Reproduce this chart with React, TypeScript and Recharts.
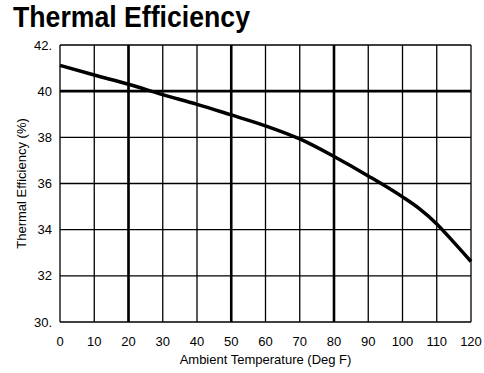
import { LineChart, Line, XAxis, YAxis, CartesianGrid, ReferenceLine, Label } from 'recharts';

const temps = [0, 10, 20, 30, 40, 50, 60, 70, 80, 90, 100, 105, 110, 115, 120];
const efficiency = [41.12, 40.7, 40.3, 39.85, 39.43, 38.97, 38.5, 37.93, 37.17, 36.33, 35.42, 34.9, 34.25, 33.45, 32.62];
const xTicks = [0, 10, 20, 30, 40, 50, 60, 70, 80, 90, 100, 110, 120];
const yTicks = [30, 32, 34, 36, 38, 40, 42];
const majorX = [20, 50, 80];
const majorY = [40];

const data = temps.map((t, i) => ({ temp: t, eff: efficiency[i] }));

const fmtY = (v: number) => (v === 30 || v === 42 ? `${v}.` : `${v}`);

export default function App() {
  return (
    <div style={{ position: 'absolute', left: 0, top: 0, width: 484, height: 373, background: '#fff', fontFamily: '"Liberation Sans", Arial, sans-serif' }}>
      <svg width={484} height={40} style={{ position: 'absolute', left: 0, top: 0 }}>
        <text x={13} y={27} fontSize={30} fontWeight="bold" fill="#000" textLength={237} lengthAdjust="spacingAndGlyphs" fontFamily='"Liberation Sans", Arial, sans-serif'>
          Thermal Efficiency
        </text>
      </svg>
      <LineChart width={484} height={373} data={data} margin={{ top: 45, right: 13, bottom: 1, left: 0 }}>
        <CartesianGrid stroke="#000" strokeWidth={1.3} horizontalValues={yTicks} verticalValues={xTicks} />
        <XAxis
          dataKey="temp"
          type="number"
          domain={[0, 120]}
          ticks={xTicks}
          axisLine={false}
          tickLine={false}
          tickMargin={9}
          height={50}
          tick={{ fill: '#000', fontSize: 13 }}
        >
          <Label value="Ambient Temperature (Deg F)" position="insideBottom" offset={8} fill="#000" fontSize={13} />
        </XAxis>
        <YAxis
          type="number"
          domain={[30, 42]}
          ticks={yTicks}
          tickFormatter={fmtY}
          axisLine={false}
          tickLine={false}
          width={60}
          tick={{ fill: '#000', fontSize: 13 }}
        >
          <Label value="Thermal Efficiency (%)" angle={-90} position="insideLeft" offset={21} fill="#000" fontSize={13} style={{ textAnchor: 'middle' }} />
        </YAxis>
        {majorX.map((v) => (
          <ReferenceLine key={`x${v}`} x={v} stroke="#000" strokeWidth={2.6} />
        ))}
        {majorY.map((v) => (
          <ReferenceLine key={`y${v}`} y={v} stroke="#000" strokeWidth={2.6} />
        ))}
        <Line type="monotone" dataKey="eff" stroke="#000" strokeWidth={3.5} dot={false} isAnimationActive={false} />
      </LineChart>
    </div>
  );
}
